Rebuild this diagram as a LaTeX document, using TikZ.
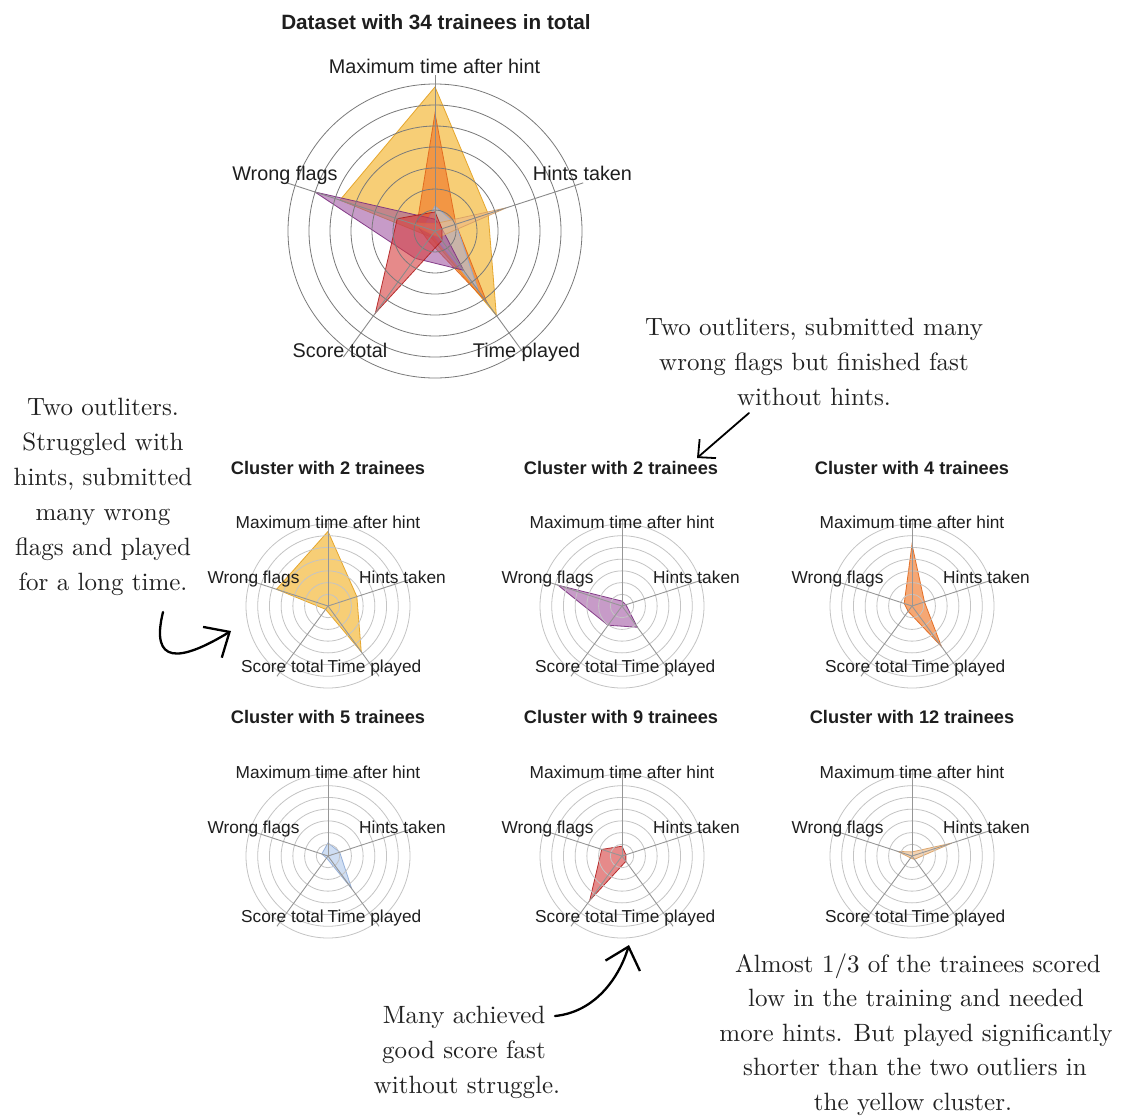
\documentclass[tikz,border=0pt]{standalone}
\usepackage{fontspec}
\newfontfamily\sansf{Liberation Sans}
\newfontfamily\annf{lmroman10-regular.otf}
\usetikzlibrary{arrows.meta}
\definecolor{txt}{HTML}{1E1E1E}
\definecolor{anntxt}{HTML}{222222}
\definecolor{ylw}{HTML}{F5BA3C}
\definecolor{ylwD}{HTML}{E3A020}
\definecolor{org}{HTML}{F0782A}
\definecolor{orgD}{HTML}{E0661A}
\definecolor{pur}{HTML}{9A4A9C}
\definecolor{purD}{HTML}{7A2E7E}
\definecolor{redc}{HTML}{D63C3C}
\definecolor{redD}{HTML}{B02020}
\definecolor{blu}{HTML}{AFC8EC}
\definecolor{bluD}{HTML}{8EAAD6}
\definecolor{tanc}{HTML}{EDB882}
\definecolor{tanD}{HTML}{D9A064}
\definecolor{ringM}{HTML}{7A7A7A}
\definecolor{ringS}{HTML}{C4C4C4}
\definecolor{axisc}{HTML}{8A8A8A}

\newcommand{\RGrid}[5]{%
  \foreach \k in {1,...,7}{\draw[#4] (#1,#2) circle[radius={#3*\k/7}];}
  \foreach \a in {-90,-18,54,126,198}{\draw[#5] (#1,#2) -- +(\a:{#3*1.06});}
}
\newcommand{\RPoly}[9]{%
  \draw[#4] (#1,#2) +(-90:{#3*#5}) -- +(-18:{#3*#6}) -- +(54:{#3*#7})
     -- +(126:{#3*#8}) -- +(198:{#3*#9}) -- cycle;
}
\newcommand{\SLabels}[3]{%
  \node[slab] (#1mx) at (#2,#3-78) {Maximum time after hint};
  \node[slab] (#1wf) at (#2-74.5,#3-23) {Wrong flags};
  \node[slab] (#1ht) at (#2+74.5,#3-23) {Hints taken};
  \node[slab] (#1st) at (#2-45.5,#3+66) {Score total};
  \node[slab] (#1tp) at (#2+46.5,#3+66) {Time played};
}

\begin{document}
\begin{tikzpicture}[x=1pt,y=-1pt,
  slab/.style={font=\sansf\fontsize{17.3}{20}\selectfont, anchor=base, inner sep=0pt, text=txt},
  mlab/.style={font=\sansf\fontsize{19.8}{22}\selectfont, anchor=base, inner sep=0pt, text=txt},
  stitle/.style={font=\sansf\bfseries\fontsize{18.2}{22}\selectfont, anchor=base, inner sep=0pt, text=txt},
  mtitle/.style={font=\sansf\bfseries\fontsize{20.7}{24}\selectfont, anchor=base, inner sep=0pt, text=txt},
  ann/.style={font=\annf\fontsize{25}{35}\selectfont, anchor=base, inner sep=0pt, text=anntxt},
  mring/.style={draw=ringM, line width=0.8pt},
  sring/.style={draw=ringS, line width=0.8pt},
  maxis/.style={draw=axisc, line width=0.9pt},
  saxis/.style={draw=axisc!90, line width=0.9pt},
  pY/.style={fill=ylw, fill opacity=0.7, draw=ylwD, draw opacity=0.9, line width=0.8pt},
  pO/.style={fill=org, fill opacity=0.65, draw=orgD, draw opacity=0.9, line width=0.8pt},
  pP/.style={fill=pur, fill opacity=0.55, draw=purD, draw opacity=0.9, line width=0.8pt},
  pR/.style={fill=redc, fill opacity=0.6, draw=redD, draw opacity=0.9, line width=0.8pt},
  pB/.style={fill=blu, fill opacity=0.6, draw=bluD, draw opacity=0.9, line width=0.8pt},
  pT/.style={fill=tanc, fill opacity=0.6, draw=tanD, draw opacity=0.9, line width=0.8pt},
  hand/.style={draw=black, line width=2.3pt, line cap=round, -{Straight Barb[length=20pt,width=36pt]}},
  handthin/.style={draw=black, line width=1.8pt, line cap=round, -{Straight Barb[length=13pt,width=25pt]}}
]
\fill[white] (0,0) rectangle (1130,1117);
\useasboundingbox (0,0) rectangle (1130,1117);

% ---------- main chart ----------
\RPoly{435}{231}{147}{pY}{0.98}{0.38}{0.71}{0.05}{0.68}
\RPoly{435}{231}{147}{pO}{0.80}{0.15}{0.60}{0.08}{0.13}
\RPoly{435}{231}{147}{pB}{0.17}{0.15}{0.50}{0.03}{0.08}
\RPoly{435}{231}{147}{pP}{0.08}{0.05}{0.33}{0.23}{0.86}
\RPoly{435}{231}{147}{pT}{0.05}{0.51}{0.05}{0.03}{0.18}
\RPoly{435}{231}{147}{pR}{0.13}{0.05}{0.08}{0.69}{0.27}
\RGrid{435}{231}{147}{mring}{maxis}
\node[mtitle] (mt) at (436,29) {Dataset with 34 trainees in total};
\node[mlab] (mmx) at (434.5,73) {Maximum time after hint};
\node[mlab] (mwf) at (285,180) {Wrong flags};
\node[mlab] (mht) at (582.5,180) {Hints taken};
\node[mlab] (mst) at (340,357) {Score total};
\node[mlab] (mtp) at (526.5,357) {Time played};

% ---------- small charts ----------
\RPoly{328}{606}{82}{pY}{0.91}{0.37}{0.69}{0.05}{0.66}
\RGrid{328}{606}{82}{sring}{saxis}
\node[stitle] (t1) at (328,474) {Cluster with 2 trainees};
\SLabels{a}{328}{606}

\RPoly{622}{606}{82}{pP}{0.06}{0.05}{0.32}{0.29}{0.82}
\RGrid{622}{606}{82}{sring}{saxis}
\node[stitle] (t2) at (621,474) {Cluster with 2 trainees};
\SLabels{b}{622}{606}

\RPoly{912}{606}{82}{pO}{0.75}{0.16}{0.61}{0.08}{0.10}
\RGrid{912}{606}{82}{sring}{saxis}
\node[stitle] (t3) at (912,474) {Cluster with 4 trainees};
\SLabels{c}{912}{606}

\RPoly{328}{856}{82}{pB}{0.16}{0.15}{0.49}{0.03}{0.08}
\RGrid{328}{856}{82}{sring}{saxis}
\node[stitle] (t4) at (328,723) {Cluster with 5 trainees};
\SLabels{d}{328}{856}

\RPoly{622}{856}{82}{pR}{0.12}{0.05}{0.08}{0.67}{0.26}
\RGrid{622}{856}{82}{sring}{saxis}
\node[stitle] (t5) at (621,723) {Cluster with 9 trainees};
\SLabels{e}{622}{856}

\RPoly{912}{856}{82}{pT}{0.05}{0.51}{0.05}{0.03}{0.18}
\RGrid{912}{856}{82}{sring}{saxis}
\node[stitle] (t6) at (912,723) {Cluster with 12 trainees};
\SLabels{f}{912}{856}

% ---------- annotations ----------
\node[ann] (L1) at (103,415) {Two outliters.};
\node[ann] (L2) at (103,450) {Struggled with};
\node[ann] (L3) at (103,485) {hints, submitted};
\node[ann] (L4) at (103,520) {many wrong};
\node[ann] (L5) at (103,555) {flags and played};
\node[ann] (L6) at (103,590) {for a long time.};

\node[ann] (R1) at (814,335) {Two outliters, submitted many};
\node[ann] (R2) at (814,370) {wrong flags but finished fast};
\node[ann] (R3) at (814,405) {without hints.};

\node[ann] (M1) at (464,1023) {Many achieved};
\node[ann] (M2) at (464,1058) {good score fast};
\node[ann] (M3) at (467,1093) {without struggle.};

\node[ann] (B1) at (918,972) {Almost 1/3 of the trainees scored};
\node[ann] (B2) at (916,1006.5) {low in the training and needed};
\node[ann] (B3) at (916,1041) {more hints. But played significantly};
\node[ann] (B4) at (915,1075.5) {shorter than the two outliers in};
\node[ann] (B5) at (913,1110) {the yellow cluster.};

% ---------- arrows ----------
\coordinate (a1s) at (163,612);
\coordinate (a1e) at (231,631);
\draw[hand] (a1s) .. controls (150,665) and (180,662) .. (a1e);

\coordinate (a2s) at (749,413);
\coordinate (a2e) at (697,458);
\draw[handthin] (a2s) -- (a2e);

\coordinate (a3s) at (555,1016);
\coordinate (a3e) at (629,945);
\draw[hand] (a3s) .. controls (595,1012) and (619,978) .. (a3e);
\end{tikzpicture}
\end{document}
